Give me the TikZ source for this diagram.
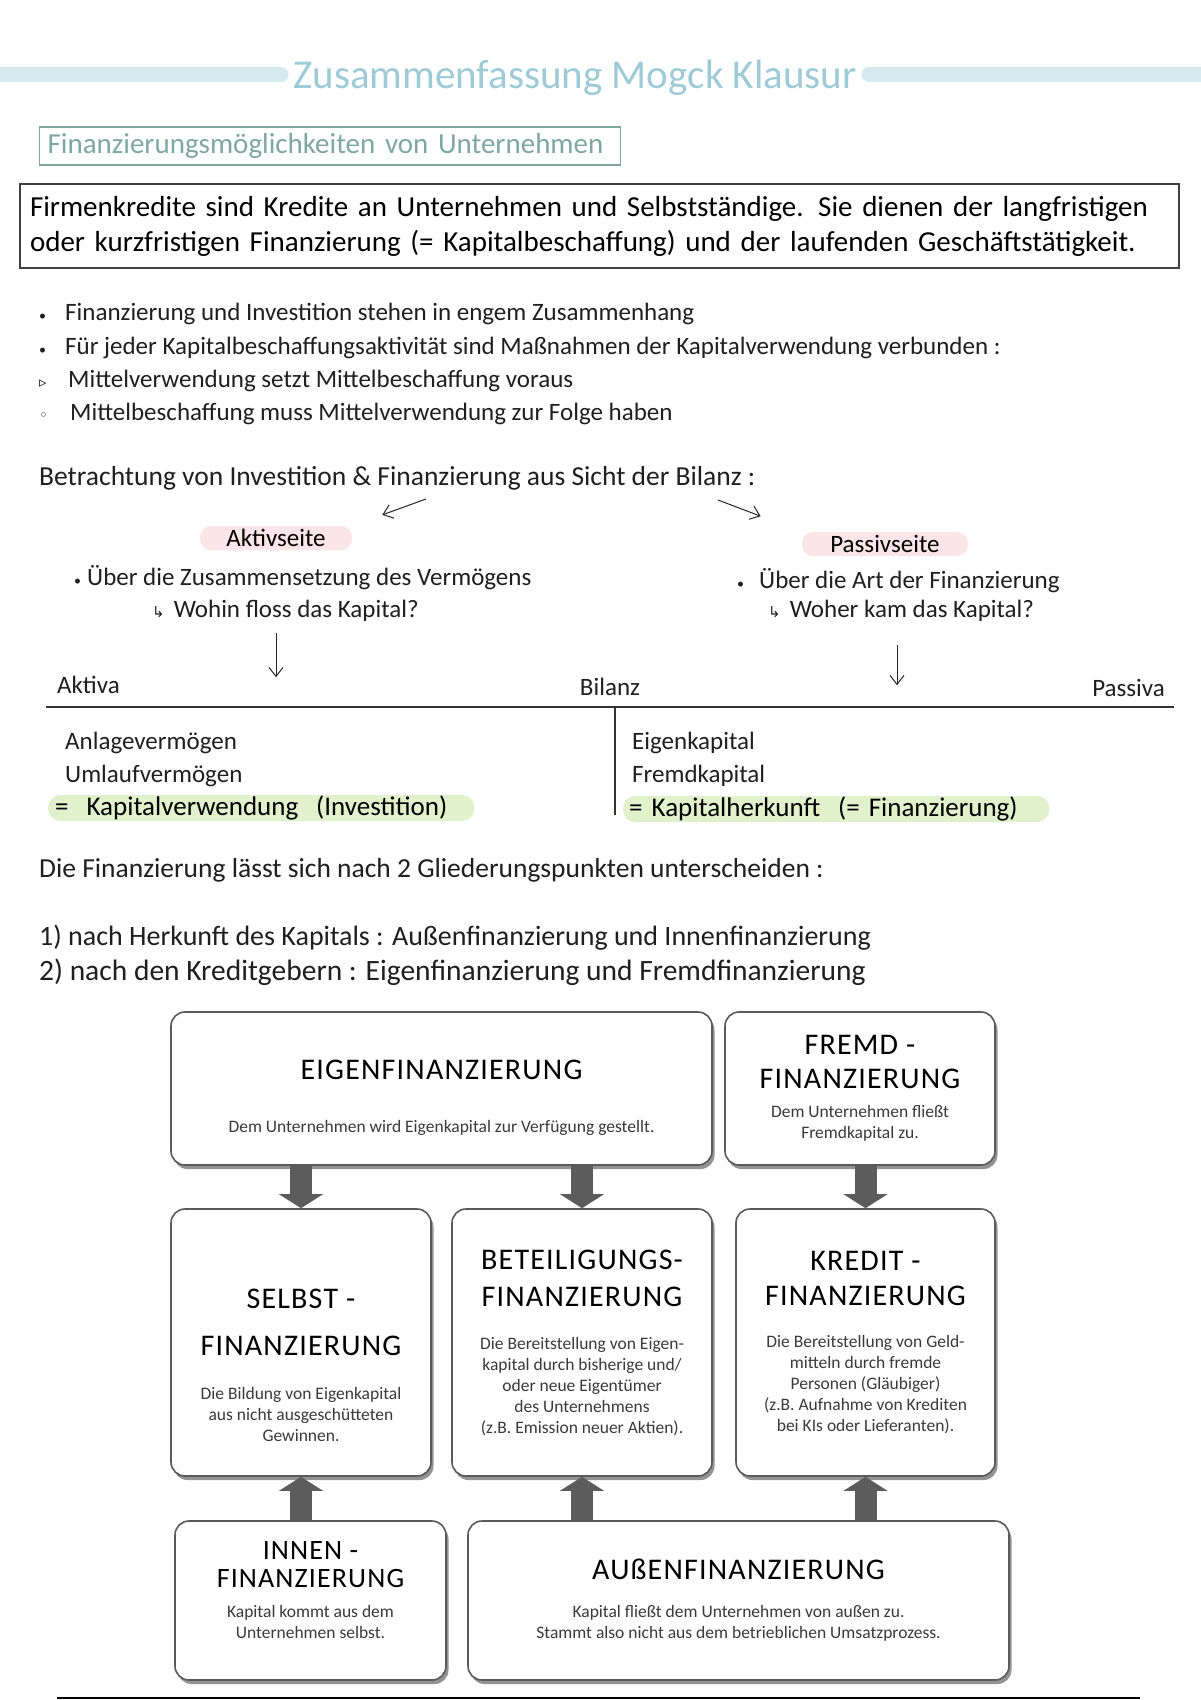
\documentclass[tikz,border=0pt]{standalone}
\usepackage{fontspec}
\setmainfont{Carlito}
\newfontfamily\symb{DejaVu Sans}
\usepackage{tikz}
\usetikzlibrary{arrows.meta,calc,shadows,positioning}

\definecolor{titelblau}{HTML}{9FCBD9}
\definecolor{balkenblau}{HTML}{D6E8F0}
\definecolor{tuerkisgrau}{HTML}{7FA8A3}
\definecolor{rosa}{HTML}{FBE4EA}
\definecolor{hellgruen}{HTML}{E1F1CB}
\definecolor{boxrand}{HTML}{5A5A5A}
\definecolor{pfeilgrau}{HTML}{5C5C5C}
\definecolor{desctext}{HTML}{3A3A3A}

\tikzset{
  hand/.style={anchor=base west, inner sep=0pt, text=black!88,
    font=\fontsize{25}{30}\selectfont},
  handgross/.style={hand, font=\fontsize{27.5}{32}\selectfont},
  balken/.style={line width=15pt, balkenblau, line cap=round},
  rosabg/.style={fill=rosa, rounded corners=11pt, inner sep=0pt,
    minimum height=24pt, font=\fontsize{25}{28}\selectfont},
  gruenbg/.style={fill=hellgruen, rounded corners=12pt, anchor=west, align=left,
    inner xsep=7pt, inner ysep=0pt, minimum height=26pt,
    font=\fontsize{27}{31}\selectfont},
  pfeil/.style={-{Straight Barb[length=9pt,width=14pt]}, line width=1pt, black!85},
  fbox/.style={draw=boxrand, line width=1.6pt, rounded corners=14pt, fill=white,
    align=center, inner sep=4pt, text=desctext,
    font=\fontsize{17.5}{21}\selectfont,
    drop shadow={shadow xshift=2.5pt, shadow yshift=-4pt, fill=black!70, opacity=0.6}},
  blockpfeil/.style={line width=22pt, pfeilgrau,
    -{Triangle[width=44pt, length=14pt, line width=0pt]}},
}
\newcommand{\kopf}{\fontsize{30}{30}\selectfont\addfontfeature{LetterSpace=4}\color{black}}
\newcommand{\kopfklein}{\fontsize{28}{28}\selectfont\addfontfeature{LetterSpace=4}\color{black}}
\newcommand{\punkt}{{\fontsize{14}{14}\selectfont •}}

\begin{document}
\begin{tikzpicture}[x=1pt, y=-1pt]
\useasboundingbox[fill=white] (0,0) rectangle (1200,1700);

%% Kopf
\node[text=titelblau, font=\fontsize{41}{46}\selectfont, inner xsep=12pt]
  (titel) at (575,78) {Zusammenfassung Mogck Klausur};
\draw[balken] (-10,74) -- (titel.west |- 0,74);
\draw[balken] (titel.east |- 0,74) -- (1210,74);

\node[draw=tuerkisgrau, line width=1.3pt, anchor=west, text width=565pt, align=left,
  inner xsep=8pt, minimum height=38pt, text=tuerkisgrau,
  font=\fontsize{29}{32}\selectfont]
  (untertitel) at (39,146) {Finanzierungsmöglichkeiten von Unternehmen};

\node[draw=black!75, line width=1.5pt, text width=1139pt, inner xsep=10pt, align=left,
  minimum height=84pt, font=\fontsize{29}{35}\selectfont]
  (firmenkredit) at (599.5,226)
  {Firmenkredite sind Kredite an Unternehmen und Selbstständige. Sie dienen der langfristigen\\
   oder kurzfristigen Finanzierung (= Kapitalbeschaffung) und der laufenden Geschäftstätigkeit.};

%% Aufzaehlung
\node[hand] (punkt1) at (39,320) {\makebox[26pt][l]{\punkt}Finanzierung und Investition stehen in engem Zusammenhang};
\node[hand] (punkt2) at (39,354) {\makebox[26pt][l]{\punkt}Für jeder Kapitalbeschaffungsaktivität sind Maßnahmen der Kapitalverwendung verbunden :};
\node[hand] (punkt3) at (39,387) {\makebox[29pt][l]{\symb\fontsize{15}{18}\selectfont ▹}Mittelverwendung setzt Mittelbeschaffung voraus};
\node[hand] (punkt4) at (39,420) {\makebox[31pt][l]{\symb\fontsize{15}{18}\selectfont ◦}Mittelbeschaffung muss Mittelverwendung zur Folge haben};

%% Bilanzsicht
\node[handgross] (betr) at (39,485) {Betrachtung von Investition \& Finanzierung aus Sicht der Bilanz :};
\node[rosabg, minimum width=152pt] (aktiv)  at (276,538) {Aktivseite};
\node[rosabg, minimum width=166pt] (passiv) at (885,544) {Passivseite};
\coordinate (pfA) at (426,499);
\coordinate (pfP) at (718,500);
\draw[pfeil, shorten >=32pt] (pfA) -- (aktiv.north east);
\draw[pfeil, shorten >=44pt] (pfP) -- (passiv.north west);

\node[hand] (zus)   at (74,585)  {\makebox[13pt][l]{\punkt}Über die Zusammensetzung des Vermögens};
\node[hand] (wohin) at (152,617) {{\symb\fontsize{15}{18}\selectfont ↳}\hspace{9pt}Wohin floss das Kapital?};
\node[hand] (art)   at (737,588) {\makebox[22pt][l]{\punkt}Über die Art der Finanzierung};
\node[hand] (woher) at (768,617) {{\symb\fontsize{15}{18}\selectfont ↳}\hspace{9pt}Woher kam das Kapital?};
\draw[pfeil] ($(wohin.south -| aktiv.south)+(0,12)$) -- ++(0,44);
\draw[pfeil] ($(woher.south -| passiv.south)+(12,24)$) -- ++(0,40);

%% Bilanz
\node[hand] (aktiva) at (57,693) {Aktiva};
\node[hand, anchor=base] (bilanz) at (610,695) {Bilanz};
\node[hand, anchor=base east] (passiva) at (1165,696) {Passiva};
\draw[line width=2pt, black!80] (46,707) -- (1174,707);
\draw[line width=1.2pt, black!80] (615,707) -- (615,815);

\node[hand] (anlage) at (65,749) {Anlagevermögen};
\node[hand] (umlauf) at (65,782) {Umlaufvermögen};
\node[gruenbg, text width=412pt] (verwendung) at (48,808) {=\ \ Kapitalverwendung\ \ (Investition)};
\node[hand] (ek) at (632,749) {Eigenkapital};
\node[hand] (fk) at (632,782) {Fremdkapital};
\node[gruenbg, text width=414pt, inner xsep=6pt] (herkunft) at (623,809) {= Kapitalherkunft\ \ (= Finanzierung)};

\node[handgross] (gliederung) at (39,877) {Die Finanzierung lässt sich nach 2 Gliederungspunkten unterscheiden :};
\node[hand, font=\fontsize{28}{32}\selectfont] (nach1) at (39,945) {1) nach Herkunft des Kapitals : Außenfinanzierung und Innenfinanzierung};
\node[hand, font=\fontsize{29.5}{33}\selectfont] (nach2) at (39,980) {2) nach den Kreditgebern : Eigenfinanzierung und Fremdfinanzierung};

%% Finanzierungsarten
\node[fbox, minimum width=541pt, minimum height=153pt] (eigen) at (441.5,1088.5)
  {\mbox{}\\[17pt]\kopf EIGENFINANZIERUNG\\[32pt]
   Dem Unternehmen wird Eigenkapital zur Verfügung gestellt.};
\node[fbox, minimum width=270pt, minimum height=153pt] (fremd) at (860,1088.5)
  {\kopf FREMD -\\[13pt]\kopf FINANZIERUNG\\[8pt]
   Dem Unternehmen fließt\\ Fremdkapital zu.};

\node[fbox, minimum width=260pt, minimum height=267pt] (selbst) at (301,1342.5)
  {\mbox{}\\[44pt]\kopf SELBST -\\[26pt]\kopf FINANZIERUNG\\[23pt]
   Die Bildung von Eigenkapital\\ aus nicht ausgeschütteten\\ Gewinnen.};
\node[fbox, minimum width=260pt, minimum height=267pt] (beteiligung) at (582,1342.5)
  {\kopf BETEILIGUNGS-\\[16pt]\kopf FINANZIERUNG\\[22pt]
   Die Bereitstellung von Eigen-\\ kapital durch bisherige und/\\ oder neue Eigentümer\\
   des Unternehmens\\ (z.B. Emission neuer Aktien).};
\node[fbox, minimum width=259pt, minimum height=267pt] (kredit) at (865.5,1342.5)
  {\kopf KREDIT -\\[14pt]\kopf FINANZIERUNG\\[21pt]
   Die Bereitstellung von Geld-\\ mitteln durch fremde\\ Personen (Gläubiger)\\
   (z.B. Aufnahme von Krediten\\ bei KIs oder Lieferanten).};

\node[fbox, minimum width=271pt, minimum height=159pt] (innen) at (310.5,1600.5)
  {\kopfklein INNEN -\\[7pt]\kopfklein FINANZIERUNG\\[9pt]
   Kapital kommt aus dem\\ Unternehmen selbst.\\[1pt]\mbox{}};
\node[fbox, minimum width=541pt, minimum height=159pt] (aussen) at (738.5,1600.5)
  {\kopf AUßENFINANZIERUNG\\[17pt]
   Kapital fließt dem Unternehmen von außen zu.\\
   Stammt also nicht aus dem betrieblichen Umsatzprozess.};

\draw[blockpfeil] (selbst.north |- eigen.south) -- (selbst.north);
\draw[blockpfeil] (beteiligung.north |- eigen.south) -- (beteiligung.north);
\draw[blockpfeil] (kredit.north |- fremd.south) -- (kredit.north);
\draw[blockpfeil] (selbst.south |- innen.north) -- (selbst.south);
\draw[blockpfeil] (beteiligung.south |- aussen.north) -- (beteiligung.south);
\draw[blockpfeil] (kredit.south |- aussen.north) -- (kredit.south);

\draw[line width=2.2pt, black] (57,1698) -- (1140,1698);
\end{tikzpicture}
\end{document}
